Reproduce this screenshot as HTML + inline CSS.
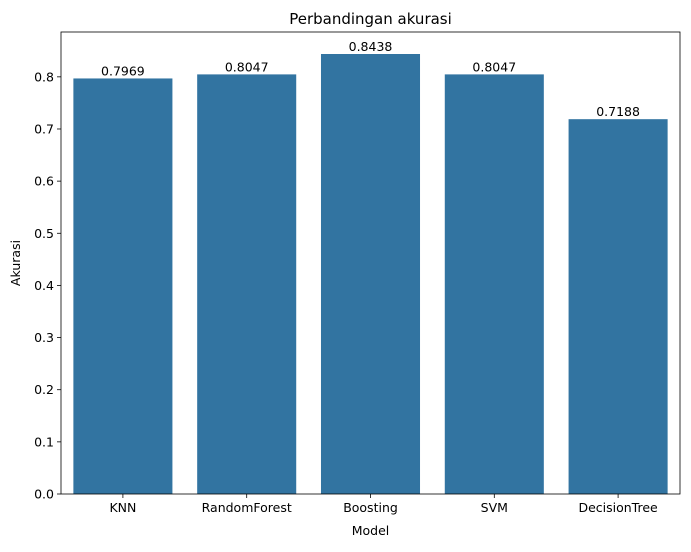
<!DOCTYPE html>
<html><head><meta charset="utf-8"><style>
body{margin:0;background:#fff;}
svg text{font-family:"DejaVu Sans","Liberation Sans",sans-serif;fill:#000;}
</style></head><body>
<svg id="chart" width="691" height="547" xmlns="http://www.w3.org/2000/svg"></svg>
<script>
const categories = ["KNN","RandomForest","Boosting","SVM","DecisionTree"];
const values = [0.7969,0.8047,0.8438,0.8047,0.7188];
const labels = ["0.7969","0.8047","0.8438","0.8047","0.7188"];
const yTicks = [0,0.1,0.2,0.3,0.4,0.5,0.6,0.7,0.8];

const svg = document.getElementById('chart');
const NS = "http://www.w3.org/2000/svg";
const L=61, R=680, T=32, B=494;
const yMax = Math.max(...values)*1.05;
const y = v => B - v/yMax*(B-T);
const step = (R-L)/categories.length;
const x = i => L + step*(i+0.5);
function el(tag, attrs, txt){const e=document.createElementNS(NS,tag);for(const k in attrs)e.setAttribute(k,attrs[k]);if(txt!==undefined)e.textContent=txt;svg.appendChild(e);return e;}

values.forEach((v,i)=>{
  const r=el('rect',{x:x(i)-step*0.4,y:y(v),width:step*0.8,height:B-y(v),fill:'#3274a1'});
  
  
  const t=el('text',{x:x(i),y:y(v)-3,'text-anchor':'middle','font-size':'12.5'},labels[i]);
  
  
  const tk=el('line',{x1:x(i),x2:x(i),y1:B,y2:B+4,stroke:'#000','stroke-width':0.8});
  
  
  const tl=el('text',{x:x(i),y:B+18,'text-anchor':'middle','font-size':'12.5'},categories[i]);
  
  
});
yTicks.forEach(v=>{
  const tk=el('line',{x1:L-4,x2:L,y1:y(v),y2:y(v),stroke:'#000','stroke-width':0.8});
  
  
  const tl=el('text',{x:L-7,y:y(v)+4.5,'text-anchor':'end','font-size':'12.5'},v.toFixed(1));
  
  
});
const frame=el('rect',{x:L,y:T,width:R-L,height:B-T,fill:'none',stroke:'#000','stroke-width':0.8});


const title=el('text',{x:(L+R)/2,y:T-8,'text-anchor':'middle','font-size':'15'},'Perbandingan akurasi');


const xt=el('text',{x:(L+R)/2,y:535,'text-anchor':'middle','font-size':'12.5'},'Model');


const yt=el('text',{x:20,y:(T+B)/2,'text-anchor':'middle','font-size':'12.5',transform:'rotate(-90 20 '+((T+B)/2)+')'},'Akurasi');


</script>
</body></html>
